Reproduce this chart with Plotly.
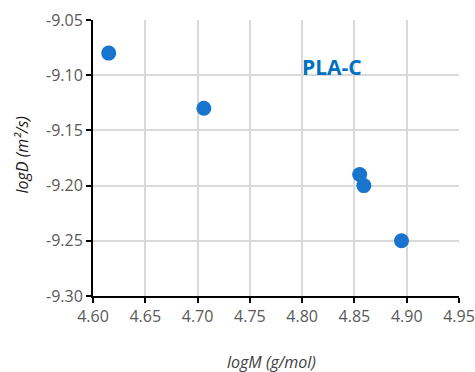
import plotly.graph_objects as go

logM = [4.615, 4.706, 4.855, 4.859, 4.895]
logD = [-9.08, -9.13, -9.19, -9.20, -9.25]
label_text = "PLA-C"
x_title = "logM (g/mol)"
y_title = "logD (m²/s)"
x_ticks = [4.60, 4.65, 4.70, 4.75, 4.80, 4.85, 4.90, 4.95]
x_ticktext = ["4.60", "4.65", "4.70", "4.75", "4.80", "4.85", "4.90", "4.95"]
y_ticks = [-9.30, -9.25, -9.20, -9.15, -9.10, -9.05]
y_ticktext = ["-9.30", "-9.25", "-9.20", "-9.15", "-9.10", "-9.05"]

fig = go.Figure()
fig.add_trace(go.Scatter(
    x=logM, y=logD, mode="markers",
    marker=dict(size=15, color="#1874CD"),
    showlegend=False, cliponaxis=False,
))

fig.add_annotation(
    x=4.829, y=-9.0926, xref="x", yref="y", text="<b>%s</b>" % label_text,
    showarrow=False, font=dict(family="Open Sans", size=21, color="#0070C0"),
)
fig.add_annotation(
    x=0.489, y=-0.238, xref="paper", yref="paper", text=x_title,
    showarrow=False, xanchor="center", yanchor="middle",
    font=dict(family="Open Sans", size=16, color="#404040", style="italic"),
)
fig.add_annotation(
    x=-0.194, y=0.5127, xref="paper", yref="paper", text=y_title, textangle=-90,
    showarrow=False, xanchor="center", yanchor="middle",
    font=dict(family="Open Sans", size=16, color="#1a1a1a", style="italic"),
)

axis_common = dict(
    showgrid=True, gridcolor="#D9D9D9", gridwidth=2,
    showline=True, linecolor="black", linewidth=2,
    ticks="outside", ticklen=5, tickwidth=2, tickcolor="black",
    tickfont=dict(family="Open Sans", size=16, color="#595959"),
    zeroline=False, automargin=False,
)

fig.update_xaxes(range=[4.60, 4.95], tickvals=x_ticks, ticktext=x_ticktext, **axis_common)
fig.update_yaxes(range=[-9.30, -9.05], tickvals=y_ticks, ticktext=y_ticktext, **axis_common)

fig.update_layout(
    width=475, height=372,
    margin=dict(l=93, r=16, t=20, b=76),
    plot_bgcolor="white", paper_bgcolor="white",
)

fig.write_html(
    "out.html",
    config={"displayModeBar": False},
    post_script="document.body.style.margin='0';document.body.style.overflow='hidden';",
)
